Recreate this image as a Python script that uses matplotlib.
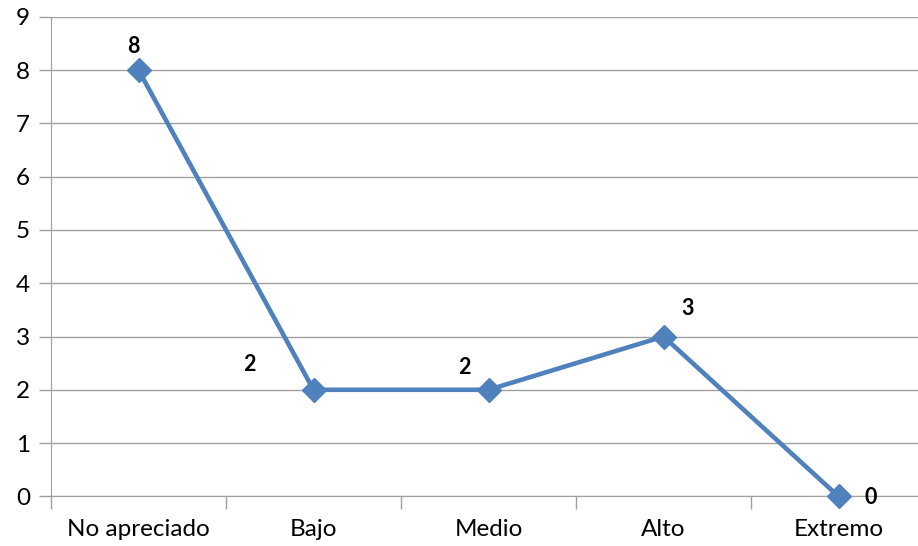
import matplotlib.pyplot as plt
import numpy as np

categorias = ['No apreciado', 'Bajo', 'Medio', 'Alto', 'Extremo']
valores = [8, 2, 2, 3, 0]
# desplazamiento de cada etiqueta (pixeles)
desplaz = [(-5, 24), (-64, 25), (-24, 22), (24, 28), (32, -1)]

plt.rcParams['font.family'] = ['Lato', 'DejaVu Sans']

fig = plt.figure(figsize=(9.18, 5.46), dpi=100)
ax = fig.add_axes([51 / 918, 49.6 / 546, 875 / 918, 479.7 / 546])

x = np.arange(len(categorias))
ax.plot(x, valores, color='#4F81BD', linewidth=3.3, marker='D', markersize=12,
        markeredgecolor='#4F81BD', zorder=3, clip_on=False)

for xi, v, d in zip(x, valores, desplaz):
    ax.annotate(str(v), (xi, v), xytext=d, textcoords='offset pixels',
                ha='center', va='center', fontsize=15.5, fontweight='bold', color='black')

ax.set_xlim(-0.5, len(categorias) - 0.5)
ax.set_ylim(0, 9)
ax.set_yticks(range(10))
ax.set_xticks(x)
ax.set_xticklabels(categorias)
ax.set_xticks(np.arange(-0.5, len(categorias), 1), minor=True)
ax.tick_params(axis='x', which='major', length=0, pad=16, labelsize=17.5)
ax.tick_params(axis='x', which='minor', length=9, color='#A0A0A0', width=1)
ax.tick_params(axis='y', length=9, color='#A0A0A0', width=1, pad=6, labelsize=17.5)

ax.grid(axis='y', color='#A0A0A0', linewidth=1)
ax.set_axisbelow(True)
for s in ['top', 'right']:
    ax.spines[s].set_visible(False)
ax.spines['left'].set_color('#A0A0A0')
ax.spines['bottom'].set_color('#A0A0A0')

fig.savefig('out.png', dpi=100)
